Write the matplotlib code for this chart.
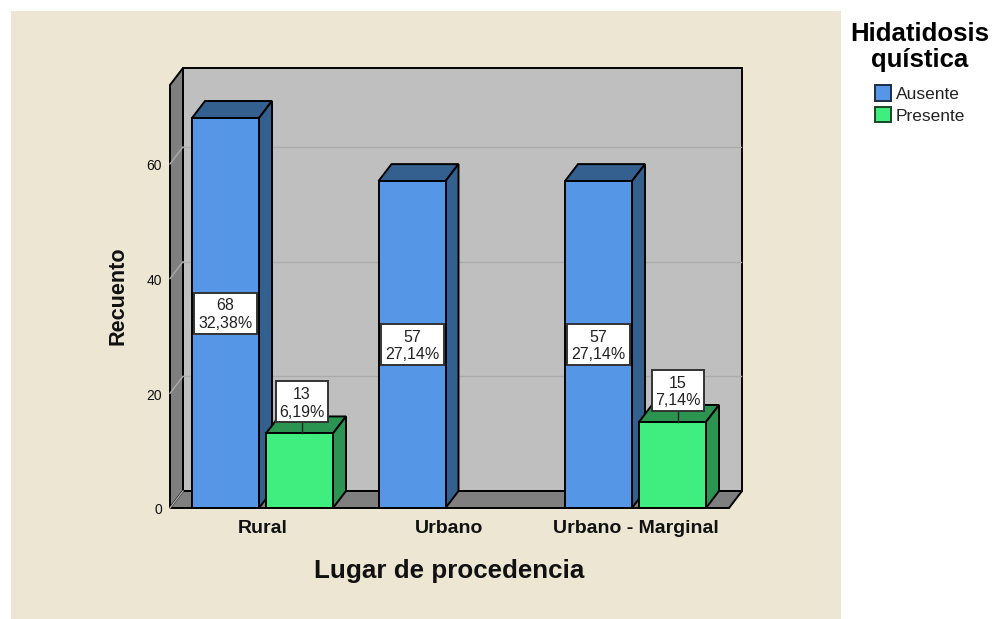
import matplotlib
matplotlib.use('Agg')
import matplotlib.pyplot as plt
from matplotlib.patches import Polygon, Rectangle, Patch

categories = ['Rural', 'Urbano', 'Urbano - Marginal']
ausente = [68, 57, 57]
presente = [13, 0, 15]
ausente_pct = ['32,38%', '27,14%', '27,14%']
presente_pct = ['6,19%', '0%', '7,14%']
y_ticks = [0, 20, 40, 60]
series_names = ['Ausente', 'Presente']
legend_title = 'Hidatidosis\nquística'
x_title = 'Lugar de procedencia'
y_title = 'Recuento'

plt.rcParams['font.family'] = ['Liberation Sans', 'DejaVu Sans']

W, H = 1001, 619
# pixels per data unit
PX_X = 186.5
PX_Y = 5.735
X0_PX = 262.5
Y0_PX = 508.0


def w(px):
    return px / PX_X


def h(px):
    return px / PX_Y


fig = plt.figure(figsize=(W / 100, H / 100), dpi=100, facecolor='white')
ax = fig.add_axes([0, 0, 1, 1])
ax.set_xlim(-X0_PX / PX_X, (W - X0_PX) / PX_X)
ax.set_ylim(-(H - Y0_PX) / PX_Y, Y0_PX / PX_Y)
ax.axis('off')

BEIGE = '#ECE6D3'
WALL = '#BFBFBF'
WALL_DARK = '#7F7F7F'
GRID = '#ABABAB'
BLUE = ('#5596E6', '#33608F', '#33608F')
GREEN = ('#40EE80', '#2A9450', '#2A9450')
LW = 1.4

# depth of the 3d box
DX = w(13)
DY = h(17)
left = -w(92.5)
right = w(466.5)
top = h(423)

ax.add_patch(Rectangle((-w(251.5), -h(111)), w(830), h(608), fc=BEIGE, ec='none', zorder=0))

# walls and floor
ax.add_patch(Polygon([(left + DX, DY), (right + DX, DY), (right + DX, top + DY), (left + DX, top + DY)],
                     fc=WALL, ec='black', lw=LW, zorder=1))
ax.add_patch(Polygon([(left, 0), (left + DX, DY), (left + DX, top + DY), (left, top)],
                     fc=WALL_DARK, ec='black', lw=LW, zorder=1))
ax.add_patch(Polygon([(left, 0), (right, 0), (right + DX, DY), (left + DX, DY)],
                     fc=WALL_DARK, ec='black', lw=LW, zorder=1))

# gridlines and tick labels
for t in y_ticks:
    if t > 0:
        ax.plot([left + DX, right + DX - w(1)], [t + DY, t + DY], color=GRID, lw=1.0, zorder=1.5)
    ax.plot([left, left + DX], [t, t + DY], color=GRID, lw=1.0, zorder=1.5)
    ax.text(left - w(8), t - h(2.5), str(t), ha='right', va='center', fontsize=10, color='#111111', zorder=5)


def draw_bar(xc, val, cols, z):
    bw = w(67)
    x1, x2 = xc - bw / 2, xc + bw / 2
    ax.add_patch(Polygon([(x1, val), (x2, val), (x2 + DX, val + DY), (x1 + DX, val + DY)],
                         fc=cols[1], ec='black', lw=LW, zorder=z))
    ax.add_patch(Polygon([(x2, 0), (x2 + DX, DY), (x2 + DX, val + DY), (x2, val)],
                         fc=cols[2], ec='black', lw=LW, zorder=z))
    ax.add_patch(Rectangle((x1, 0), bw, val, fc=cols[0], ec='black', lw=LW, zorder=z))


def draw_label(xc, yc, line1, line2, bw, z=6):
    bh = h(41)
    ax.add_patch(Rectangle((xc - w(bw) / 2, yc - bh / 2), w(bw), bh, fc='white', ec='#333333', lw=LW, zorder=z))
    ax.text(xc, yc - h(1.5), line1 + '\n' + line2, ha='center', va='center', fontsize=11.5,
            linespacing=1.2, color='#222222', zorder=z + 1)


off = w(37)
for i, cat in enumerate(categories):
    draw_bar(i - off, ausente[i], BLUE, 2 + i * 0.2)
    if presente[i] > 0:
        draw_bar(i + off, presente[i], GREEN, 2.1 + i * 0.2)
    draw_label(i - off, ausente[i] / 2, str(ausente[i]), ausente_pct[i], 63)
    if presente[i] > 0:
        cx = i + off + w(2.5 if i == 0 else 5)
        base = presente[i] + h(11)
        ax.plot([cx, cx], [presente[i], base], color='#222222', lw=1.0, zorder=5)
        draw_label(cx, base + h(20.5), str(presente[i]), presente_pct[i], 52)
    ax.text(i, -h(20.5), cat, ha='center', va='center', fontsize=14, fontweight='bold', color='#111111')

ax.text(w(186.5), -h(63), x_title, ha='center', va='center', fontsize=18.7, fontweight='bold', color='#111111')
ax.text(-w(144.5), h(212), y_title, rotation=90, ha='center', va='center', fontsize=15.6,
        fontweight='bold', color='#111111')

# legend
ax.text(w(920 - X0_PX), h(Y0_PX - 47), legend_title, ha='center', va='center', fontsize=18.5,
        fontweight='bold', linespacing=1.15, color='black')
handles = [Patch(fc=BLUE[0], ec='#1c2e44', lw=1.4), Patch(fc=GREEN[0], ec='#1c4428', lw=1.4)]
ax.legend(handles, series_names, loc='upper left', bbox_to_anchor=(875 / W, 1 - 85 / H), frameon=False,
          fontsize=12.5, handlelength=0.95, handleheight=1.0, handletextpad=0.25, labelspacing=0.3,
          labelcolor='#222222', borderpad=0, borderaxespad=0)

fig.savefig('out.png', dpi=100)
